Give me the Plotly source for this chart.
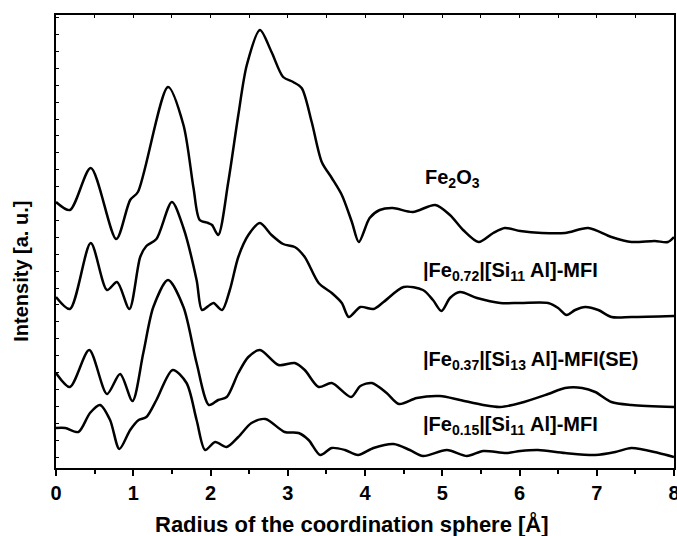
import plotly.graph_objects as go

# Radius (Å) and intensity (a.u.)
r_fe2o3 = [0.00, 0.18, 0.45, 0.78, 0.96, 1.06, 1.45, 1.65, 1.78, 1.86, 1.97, 2.02, 2.10, 2.23, 2.36, 2.47,
           2.64, 2.79, 2.94, 3.07, 3.18, 3.31, 3.44, 3.57, 3.70, 3.83, 3.92, 4.06, 4.19, 4.36, 4.62, 4.91,
           5.10, 5.27, 5.47, 5.66, 5.81, 6.01, 6.29, 6.59, 6.89, 7.19, 7.45, 7.75, 7.92, 8.00]
i_fe2o3 = [266, 258, 300, 229, 268, 276, 381, 343, 280, 248, 245, 243, 233, 286, 353, 403,
           438, 416, 391, 386, 380, 346, 306, 290, 273, 246, 226, 250, 258, 260, 256, 263,
           253, 238, 226, 235, 240, 237, 235, 235, 240, 231, 226, 227, 226, 231]

r_fe072 = [0.00, 0.18, 0.45, 0.66, 0.79, 0.95, 1.09, 1.17, 1.30, 1.50, 1.65, 1.82, 1.89, 1.99, 2.04, 2.15,
           2.25, 2.36, 2.49, 2.64, 2.79, 2.94, 3.09, 3.22, 3.40, 3.57, 3.70, 3.79, 3.94, 4.11, 4.24, 4.50,
           4.75, 4.88, 4.99, 5.10, 5.23, 5.45, 5.75, 6.01, 6.37, 6.50, 6.61, 6.72, 6.85, 7.02, 7.19, 7.45, 8.00]
i_fe072 = [171, 159, 225, 178, 186, 159, 211, 222, 229, 266, 240, 188, 158, 163, 165, 158,
           178, 211, 233, 245, 233, 224, 221, 211, 185, 175, 165, 151, 161, 159, 166, 181,
           178, 168, 157, 170, 176, 170, 165, 165, 165, 160, 153, 158, 161, 158, 151, 151, 152]

r_fe037 = [0.00, 0.18, 0.43, 0.66, 0.83, 0.99, 1.13, 1.26, 1.45, 1.65, 1.82, 1.98, 2.10, 2.21, 2.36, 2.49,
           2.64, 2.88, 3.09, 3.22, 3.40, 3.57, 3.82, 3.94, 4.09, 4.28, 4.44, 4.67, 4.97, 5.23, 5.53, 5.75,
           6.01, 6.37, 6.59, 6.81, 6.98, 7.19, 7.45, 8.00]
i_fe037 = [95, 81, 118, 74, 94, 67, 115, 161, 188, 161, 105, 63, 68, 71, 95, 111,
           118, 103, 105, 98, 81, 85, 71, 82, 85, 75, 64, 70, 72, 68, 63, 61,
           65, 74, 80, 80, 76, 66, 63, 61]

r_fe015 = [0.00, 0.12, 0.29, 0.44, 0.57, 0.70, 0.82, 0.96, 1.07, 1.17, 1.30, 1.51, 1.69, 1.82, 1.93, 2.06,
           2.21, 2.36, 2.53, 2.71, 2.96, 3.14, 3.27, 3.42, 3.57, 3.74, 3.91, 4.11, 4.37, 4.58, 4.75, 5.06,
           5.32, 5.53, 5.83, 6.01, 6.24, 6.59, 6.98, 7.24, 7.45, 7.80, 8.00]
i_fe015 = [40, 40, 36, 55, 63, 48, 19, 38, 48, 51, 68, 98, 85, 48, 18, 26,
           21, 31, 45, 49, 36, 35, 28, 13, 20, 18, 13, 20, 24, 18, 12, 18,
           12, 17, 15, 17, 18, 15, 13, 16, 20, 15, 11]

series = [(r_fe2o3, i_fe2o3), (r_fe072, i_fe072), (r_fe037, i_fe037), (r_fe015, i_fe015)]

labels = ["Fe<sub>2</sub>O<sub>3</sub>",
          "|Fe<sub>0.72</sub>|[Si<sub>11</sub> Al]-MFI",
          "|Fe<sub>0.37</sub>|[Si<sub>13</sub> Al]-MFI(SE)",
          "|Fe<sub>0.15</sub>|[Si<sub>11</sub> Al]-MFI"]
label_x = [4.75, 4.72, 4.72, 4.72]
label_y = [290, 197, 108, 43]

x_title = "Radius of the coordination sphere [Å]"
y_title = "Intensity [a. u.]"

FONT = "Liberation Sans, Arial, sans-serif"

fig = go.Figure()
for r, inten in series:
    fig.add_trace(go.Scatter(x=r, y=inten, mode="lines",
                             line=dict(color="black", width=2.5, shape="spline", smoothing=0.8),
                             showlegend=False, hoverinfo="skip"))
# invisible trace for top axis
fig.add_trace(go.Scatter(x=[0, 8], y=[0, 0], xaxis="x2", mode="lines",
                         line=dict(width=0), showlegend=False, hoverinfo="skip"))

for t, x, y in zip(labels, label_x, label_y):
    fig.add_annotation(x=x, y=y, text="<b>" + t + "</b>", showarrow=False,
                       xanchor="left", yanchor="middle",
                       font=dict(family=FONT, size=20, color="black"))

fig.add_annotation(xref="paper", yref="paper", x=0.479, y=-0.1236, text="<b>" + x_title + "</b>",
                   showarrow=False, xanchor="center", yanchor="middle",
                   font=dict(family=FONT, size=22, color="black"))
fig.add_annotation(xref="paper", yref="paper", x=-0.057, y=0.435, text="<b>" + y_title + "</b>",
                   showarrow=False, xanchor="center", yanchor="middle", textangle=-90,
                   font=dict(family=FONT, size=20, color="black"))

fig.update_layout(
    width=677, height=536,
    margin=dict(l=56, r=3, t=15, b=68),
    paper_bgcolor="white", plot_bgcolor="white",
    font=dict(family=FONT, color="black"),
    xaxis=dict(range=[0, 8], dtick=1, tick0=0, ticks="outside", ticklen=6, tickwidth=1.5,
               tickcolor="black", ticklabeloverflow="allow", automargin=False,
               minor=dict(dtick=0.5, ticks="outside", ticklen=4, tickcolor="black"),
               showline=True, linecolor="black", linewidth=2, mirror=True,
               showgrid=False, zeroline=False,
               tickfont=dict(family=FONT, size=20, color="black"),
               tickprefix="<b>", ticksuffix="</b>"),
    xaxis2=dict(range=[0, 8], overlaying="x", side="top", dtick=0.5, ticks="inside",
                ticklen=3, tickcolor="black", showticklabels=False, showgrid=False,
                zeroline=False, showline=False, automargin=False),
    yaxis=dict(range=[0, 453], tick0=11, dtick=16.9, ticks="inside", ticklen=3, tickwidth=1,
               tickcolor="black", showticklabels=False, automargin=False,
               showline=True, linecolor="black", linewidth=2, mirror=True,
               showgrid=False, zeroline=False),
)

fig.write_html("out.html")
